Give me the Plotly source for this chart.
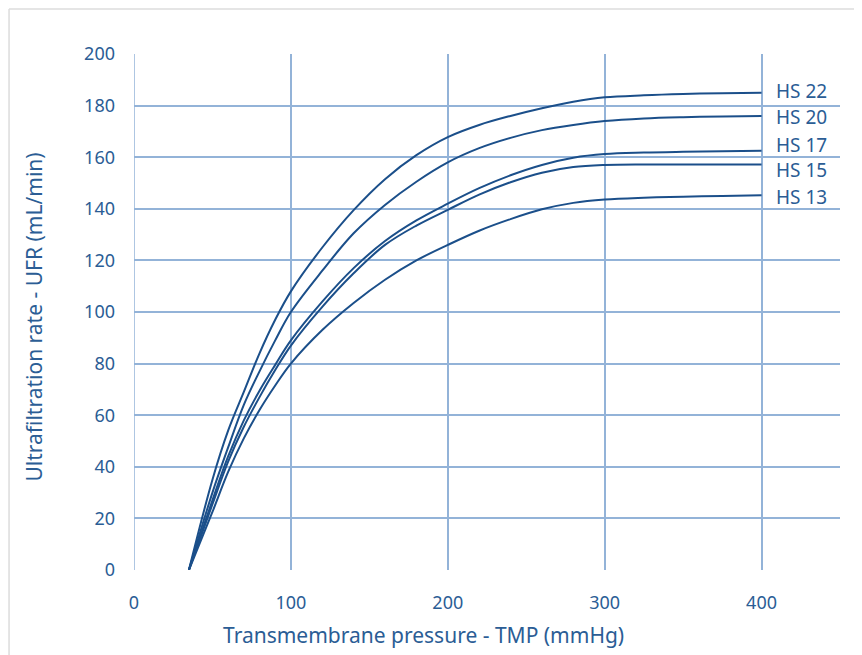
import plotly.graph_objects as go

tmp = [35, 50, 60, 70, 80, 90, 100, 120, 140, 160, 180, 200, 220, 240, 260, 280, 300, 325, 350, 375, 400]
hs22 = [0, 35, 54, 69, 84, 97, 108, 125, 139.5, 151.5, 160.8, 167.8, 172.5, 176, 179, 181.5, 183.2, 184, 184.5, 184.8, 185]
hs20 = [0, 30, 47.5, 64, 77, 89, 100, 116, 130.5, 141.5, 150.5, 158, 163.5, 167.5, 170.5, 172.5, 174, 175, 175.5, 175.8, 176]
hs17 = [0, 27, 44, 58, 69.5, 79.5, 89, 104, 117, 127.5, 135.5, 142, 148, 153, 157, 159.8, 161.2, 161.8, 162.1, 162.3, 162.5]
hs15 = [0, 25.5, 42, 55.5, 67, 77.5, 87, 102, 115, 126, 133.5, 139.6, 145.5, 150.3, 154, 156.2, 157, 157.2, 157.2, 157.2, 157.2]
hs13 = [0, 22.5, 38, 51, 62, 71.5, 80, 93, 103.5, 112.5, 120, 126, 131.5, 136, 139.8, 142.3, 143.6, 144.3, 144.7, 145, 145.3]
series_names = ["HS 22", "HS 20", "HS 17", "HS 15", "HS 13"]
label_y = [185.5, 175.6, 164.9, 155, 144.5]
x_ticks = [0, 100, 200, 300, 400]
y_ticks = [0, 20, 40, 60, 80, 100, 120, 140, 160, 180, 200]

line_color = "#1b4f8a"
grid_color = "#93b3d8"
text_color = "#2b5d95"
font_family = "Noto Sans, Open Sans, sans-serif"

fig = go.Figure()
for name, ys in zip(series_names, [hs22, hs20, hs17, hs15, hs13]):
    fig.add_trace(go.Scatter(x=tmp, y=ys, mode="lines", name=name,
                             line=dict(color=line_color, width=2, shape="spline", smoothing=1.0),
                             showlegend=False, hoverinfo="skip"))

for name, ly in zip(series_names, label_y):
    fig.add_annotation(x=408, y=ly, text=name, showarrow=False, xanchor="left", yanchor="middle",
                       font=dict(size=19, color=text_color, family=font_family))

fig.add_annotation(x=0.41, y=-0.125, xref="paper", yref="paper", text="Transmembrane pressure - TMP (mmHg)",
                   showarrow=False, xanchor="center", yanchor="middle",
                   font=dict(size=21, color=text_color, family=font_family))
fig.add_annotation(x=-0.141, y=0.49, xref="paper", yref="paper", text="Ultrafiltration rate - UFR (mL/min)",
                   showarrow=False, textangle=-90, xanchor="center", yanchor="middle",
                   font=dict(size=21, color=text_color, family=font_family))

# outer light border (top and left)
fig.add_shape(type="line", xref="paper", yref="paper", x0=-0.177, x1=1.1, y0=1.0872, y1=1.0872,
              line=dict(color="#dcdcdc", width=1.5))
fig.add_shape(type="line", xref="paper", yref="paper", x0=-0.177, x1=-0.177, y0=1.0872, y1=-0.3,
              line=dict(color="#dcdcdc", width=1.5))

fig.update_xaxes(range=[0, 450], tickvals=x_ticks, showgrid=True, gridcolor=grid_color, gridwidth=1.5,
                 zeroline=False, showline=False, ticks="", ticklabelstandoff=20,
                 tickfont=dict(size=18, color=text_color, family=font_family))
fig.update_yaxes(range=[0, 200], tickvals=y_ticks, showgrid=True, gridcolor=grid_color, gridwidth=1.5,
                 zeroline=False, showline=False, ticks="", ticklabelstandoff=18,
                 tickfont=dict(size=18, color=text_color, family=font_family))
# left axis line
fig.add_shape(type="line", xref="x", yref="paper", x0=0, x1=0, y0=0, y1=1,
              line=dict(color=grid_color, width=1.5), layer="below")

fig.update_layout(width=862, height=655, margin=dict(l=126, r=30, t=46, b=93),
                  paper_bgcolor="white", plot_bgcolor="white")
fig.write_html("out.html")
